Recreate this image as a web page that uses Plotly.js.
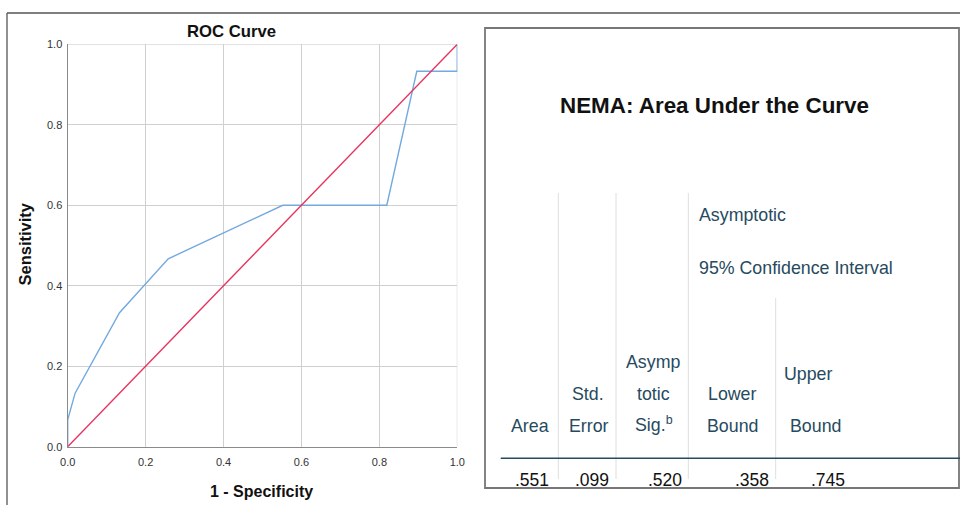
<!DOCTYPE html>
<html>
<head>
<meta charset="utf-8">
<script src="https://cdn.plot.ly/plotly-3.0.1.min.js"></script>
<style>
html,body{margin:0;padding:0;background:#fff;}
#chart{width:960px;height:505px;}
</style>
</head>
<body>
<div id="chart"></div>
<script>
// ROC curve data
var fpr  = [0, 0, 0.019, 0.133, 0.258, 0.552, 0.819, 0.896, 1, 1];
var sens = [0, 0.067, 0.133, 0.333, 0.467, 0.6, 0.6, 0.933, 0.933, 1];
var refX = [0, 1];
var refY = [0, 1];
var tickVals = [0, 0.2, 0.4, 0.6, 0.8, 1.0];

// Table content
var tableTitle = "NEMA: Area Under the Curve";
var headerGroup1 = "Asymptotic";
var headerGroup2 = "95% Confidence Interval";
var areaValues = [".551", ".099", ".520", ".358", ".745"];

// Layout positions for table text (pixels on the 960x505 canvas)
var valueRightX = [549, 609, 682, 769, 845];
var valueY = [482, 482, 482, 482, 482];

var HC = '#264a60';
var F = 'Arial, Liberation Sans, sans-serif';
var HS = 17.8;

var traces = [
  {x: fpr, y: sens, type: 'scatter', mode: 'lines', line: {color: '#74a9df', width: 1.4}, xaxis: 'x', yaxis: 'y', hoverinfo: 'skip'},
  {x: refX, y: refY, type: 'scatter', mode: 'lines', line: {color: '#e8325e', width: 1.4}, xaxis: 'x', yaxis: 'y', hoverinfo: 'skip'},
  {x: valueRightX, y: valueY, text: areaValues, type: 'scatter', mode: 'text', textposition: 'middle left',
   textfont: {family: F, size: 17.5, color: '#111'}, xaxis: 'x2', yaxis: 'y2', cliponaxis: false, hoverinfo: 'skip'}
];

function ann(text, x, y, opts) {
  var a = {text: text, x: x, y: y, xref: 'x2', yref: 'y2', showarrow: false,
           xanchor: 'center', yanchor: 'middle', font: {family: F, size: HS, color: HC}};
  for (var k in opts) a[k] = opts[k];
  return a;
}

var annotations = [
  ann('<b>ROC Curve</b>', 231.5, 31, {font: {family: F, size: 16.7, color: '#111'}}),
  ann('<b>Sensitivity</b>', 24, 244.5, {textangle: -90, font: {family: F, size: 16.5, color: '#111'}}),
  ann('<b>1 - Specificity</b>', 261.5, 491.5, {font: {family: F, size: 16, color: '#111'}}),
  ann('<b>' + tableTitle + '</b>', 558, 105, {xanchor: 'left', font: {family: F, size: 22.4, color: '#111'}}),
  ann(headerGroup1, 697, 215, {xanchor: 'left'}),
  ann(headerGroup2, 697, 268, {xanchor: 'left'}),
  ann('Asymp', 652.5, 362),
  ann('Upper', 782, 374, {xanchor: 'left'}),
  ann('Std.', 588, 394),
  ann('totic', 653, 394),
  ann('Lower', 732.5, 394),
  ann('Area', 529.5, 426),
  ann('Error', 588.5, 426),
  ann('Sig.<sup>b</sup>', 653.5, 424),
  ann('Bound', 732.5, 426),
  ann('Bound', 815, 426)
];

function line(x0, y0, x1, y1, color, w, layer) {
  return {type: 'line', xref: 'x2', yref: 'y2', x0: x0, y0: y0, x1: x1, y1: y1,
          line: {color: color, width: w}, layer: layer || 'above'};
}

var shapes = [
  // plot top/right edges (grid colour)
  {type: 'line', xref: 'x', yref: 'y', x0: 0, x1: 1, y0: 1, y1: 1, line: {color: '#cfcfcf', width: 1}, layer: 'below'},
  {type: 'line', xref: 'x', yref: 'y', x0: 1, x1: 1, y0: 0, y1: 1, line: {color: '#cfcfcf', width: 1}, layer: 'below'},
  // outer page lines
  line(7, 13, 960, 13, '#555', 1.3),
  line(7, 13, 7, 505, '#555', 1.3),
  // white cover to clip table values
  {type: 'rect', xref: 'x2', yref: 'y2', x0: 486, x1: 958, y0: 489, y1: 505, fillcolor: '#fff', line: {width: 0}, layer: 'above'},
  // table frame
  {type: 'rect', xref: 'x2', yref: 'y2', x0: 485, x1: 959, y0: 28, y1: 488, line: {color: '#777', width: 1.8}, layer: 'above'},
  // column separators
  line(558.3, 193, 558.3, 479, '#dedede', 1),
  line(616, 193, 616, 479, '#dedede', 1),
  line(688.3, 193, 688.3, 479, '#dedede', 1),
  line(775.7, 298, 775.7, 479, '#dedede', 1),
  // header underline
  line(500.7, 458.3, 960, 458.3, HC, 1.6)
];

var axCommon = {
  range: [0, 1], tickvals: tickVals, tickformat: '.1f', showgrid: true, gridcolor: '#cfcfcf', gridwidth: 1,
  zeroline: false, showline: true, linecolor: '#8a8a8a', linewidth: 1.2, ticks: '',
  tickfont: {family: F, size: 11, color: '#333'}, fixedrange: true
};

var layout = {
  width: 960, height: 505,
  margin: {l: 0, r: 0, t: 0, b: 0},
  paper_bgcolor: '#fff', plot_bgcolor: 'rgba(0,0,0,0)',
  showlegend: false,
  xaxis: Object.assign({}, axCommon, {domain: [67.7/960, 457.3/960], anchor: 'y', ticklabelstandoff: 5}),
  yaxis: Object.assign({}, axCommon, {domain: [(505-446.7)/505, (505-44.3)/505], anchor: 'x', ticklabelstandoff: 2}),
  xaxis2: {domain: [0, 1], range: [0, 960], visible: false, anchor: 'y2', fixedrange: true, showgrid: false, zeroline: false},
  yaxis2: {domain: [0, 1], range: [505, 0], visible: false, anchor: 'x2', fixedrange: true, showgrid: false, zeroline: false},
  annotations: annotations,
  shapes: shapes
};

Plotly.newPlot('chart', traces, layout, {staticPlot: true, displayModeBar: false});
</script>
</body>
</html>
